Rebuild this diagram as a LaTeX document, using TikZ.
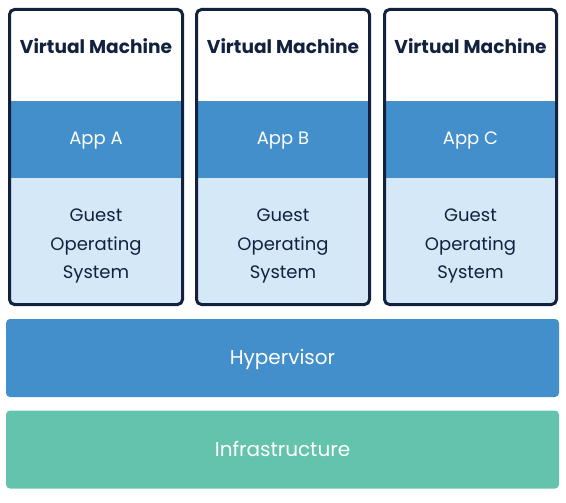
\documentclass[tikz,border=0pt]{standalone}
\usepackage{fontspec}
\setmainfont{Poppins}
\definecolor{navy}{HTML}{12213E}
\definecolor{appblue}{HTML}{438FCC}
\definecolor{guestblue}{HTML}{D4E8F7}
\definecolor{infra}{HTML}{63C3AC}
\begin{document}
\begin{tikzpicture}[x=1pt,y=-1pt,
  band/.style={rectangle,inner sep=0pt,outer sep=0pt},
  vmbox/.style={rectangle,draw=navy,line width=3pt,rounded corners=5pt,inner sep=0pt,minimum width=173pt,minimum height=295pt},
  vmtitle/.style={font=\fontsize{18.6}{20}\selectfont\bfseries,text=navy,anchor=base,inner sep=0pt},
  apptext/.style={font=\fontsize{18}{20}\selectfont,text=white,anchor=base,inner sep=0pt},
  guesttext/.style={font=\fontsize{18}{28.3}\selectfont,text=navy,align=center,anchor=base,inner sep=0pt},
  layer/.style={rectangle,rounded corners=4pt,inner sep=0pt,minimum width=553pt,minimum height=78pt},
  layertext/.style={font=\fontsize{20}{22}\selectfont,text=white,anchor=base,inner sep=0pt}
]
\useasboundingbox (0,0) rectangle (566,503);
\foreach \i/\xl/\xr/\lab in {1/9.5/182.5/A,2/196.5/369.5/B,3/384.5/556.5/C}{
  \pgfmathsetmacro{\xc}{(\xl+\xr)/2}
  \pgfmathsetmacro{\w}{\xr-\xl-3}
  \node[band,fill=appblue,minimum width=\w pt,minimum height=77pt] (app\i) at (\xc,139.5) {};
  \node[band,fill=guestblue,minimum width=\w pt,minimum height=125pt] (guest\i) at (\xc,240.5) {};
  \node[vmbox,minimum width={\xr-\xl}] (vm\i) at (\xc,157) {};
  \node[vmtitle] (vmt\i) at (\xc,54) {Virtual Machine};
  \node[apptext] (appt\i) at (\xc,145) {App \lab};
  \node[guesttext] (guestt\i) at (\xc,278.3) {Guest\\Operating\\System};
}
\node[layer,fill=appblue] (hyp) at (282.5,358) {};
\node[layertext] (hypt) at (282.5,364) {Hypervisor};
\node[layer,fill=infra] (inf) at (282.5,449.5) {};
\node[layertext] (inft) at (282.5,456) {Infrastructure};
\end{tikzpicture}
\end{document}
